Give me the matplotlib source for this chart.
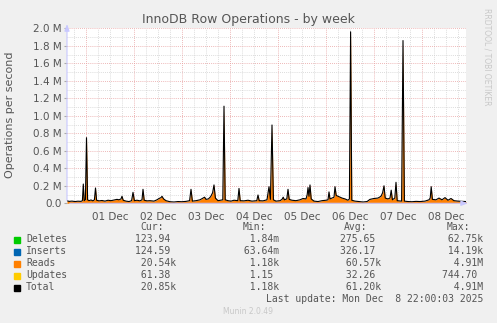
import numpy as np
import matplotlib
matplotlib.use('Agg')
import matplotlib.pyplot as plt
from matplotlib.transforms import blended_transform_factory

# hours since 01 Dec 00:00, read values in thousands of rows/s
hours = [-9.5, -8.5, -7, -5.5, -4, -2.5, -1.8, -1.35, -0.9, -0.3, 0.25, 0.8, 1.5, 2.5, 3.5,
         4.2, 4.75, 5.3, 6.5, 8, 9.5, 11, 12.5, 14, 15.5, 16.5, 17.5, 18, 18.6, 20, 21.5,
         22.8, 23.5, 24.2, 25.5, 27, 28, 28.5, 29.1, 30.5, 32, 34, 35.5, 36.5, 37.5, 38,
         38.8, 40, 42, 44, 46, 48, 50, 51.8, 52.5, 53.2, 55, 57, 58.5, 59.3, 60, 61.2,
         62.3, 63.3, 64, 64.7, 66, 68.4, 69, 69.6, 71, 72.5, 74, 75.9, 76.5, 77.1, 79, 81,
         83, 85.4, 86, 86.6, 88.5, 90.5, 91.5, 92.2, 93, 93.7, 95, 97, 98, 98.6, 99.2,
         100.4, 101, 101.6, 103, 105, 107, 108.5, 110, 110.6, 111, 111.5, 112, 112.6, 114,
         116, 118, 120, 121, 121.5, 122, 123, 124, 124.5, 125.1, 126.5, 128, 129.5, 131,
         131.7, 132.3, 132.9, 134.5, 136.5, 138.5, 140.5, 142, 144, 146, 147.5, 148.3, 149,
         149.6, 151, 152, 152.6, 153.2, 154.4, 155, 155.6, 157.8, 158.5, 159.2, 161, 163,
         165, 167, 169.5, 171.5, 172.1, 172.6, 173.2, 175, 176.5, 178, 179.5, 181, 182.5,
         184, 186, 188, 190]
reads = [30, 22, 25, 20, 24, 22, 30, 220, 30, 40, 750, 40, 30, 38, 28,
         40, 175, 35, 28, 32, 25, 35, 30, 38, 45, 40, 50, 80, 35, 25, 20,
         30, 125, 30, 35, 28, 40, 160, 35, 28, 30, 25, 40, 55, 65, 80,
         50, 30, 18, 15, 20, 18, 22, 30, 160, 25, 30, 40, 60, 70, 45, 50,
         75, 120, 210, 60, 30, 40, 1110, 40, 30, 25, 35, 30, 170, 30, 28, 35,
         25, 30, 95, 30, 28, 40, 190, 45, 895, 40, 25, 30, 45, 70, 40,
         50, 160, 45, 35, 30, 40, 55, 50, 100, 180, 80, 210, 50, 25,
         20, 30, 35, 40, 130, 50, 60, 70, 190, 90, 75, 60, 50, 35,
         50, 1960, 35, 25, 20, 15, 20, 45, 55, 60, 80, 120, 200,
         60, 50, 60, 150, 40, 60, 240, 30, 25, 1860, 25, 20, 18,
         22, 20, 25, 40, 60, 190, 45, 40, 60, 40, 65, 35, 55,
         30, 25, 22, 20]

day_labels = ['01 Dec', '02 Dec', '03 Dec', '04 Dec', '05 Dec', '06 Dec', '07 Dec', '08 Dec']

names = ['Deletes', 'Inserts', 'Reads', 'Updates', 'Total']
colors = ['#00cc00', '#0066b3', '#ff8000', '#ffcc00', '#000000']
cur = ['123.94 ', '124.59 ', ' 20.54k', ' 61.38 ', ' 20.85k']
mins = ['  1.84m', ' 63.64m', '  1.18k', '  1.15 ', '  1.18k']
avgs = ['275.65 ', '326.17 ', ' 60.57k', ' 32.26 ', ' 61.20k']
maxs = [' 62.75k', ' 14.19k', '  4.91M', '744.70 ', '  4.91M']

W, H = 497, 323
fig = plt.figure(figsize=(W / 100, H / 100), dpi=100, facecolor='#f0f0f0')
left, right, top, bottom = 67, 466, 28.3, 203.3
ax = fig.add_axes([left / W, 1 - bottom / H, (right - left) / W, (bottom - top) / H])
ax.set_facecolor('white')

x = np.array(hours)
y = np.array(reads) * 1000.0
ax.fill_between(x, 0, y, color='#ff8000', lw=0, zorder=3)
ax.plot(x, y, color='black', lw=0.8, zorder=4)

ax.set_xlim(-9.5, 190)
ax.set_ylim(0, 2.0e6)

# grid: minor grey, major red
for h in np.arange(-6, 190, 6):
    if h % 24 != 0:
        ax.axvline(h, color='#d0d0d0', lw=0.6, ls=(0, (1, 1.5)), zorder=1)
for h in np.arange(0, 190, 24):
    ax.axvline(h, color='#e8a0a0', lw=0.6, ls=(0, (1, 1.5)), zorder=2)
for v in np.arange(0.1e6, 2.01e6, 0.2e6):
    ax.axhline(v, color='#d0d0d0', lw=0.6, ls=(0, (1, 1.5)), zorder=1)
for v in np.arange(0.2e6, 2.01e6, 0.2e6):
    ax.axhline(v, color='#e8a0a0', lw=0.6, ls=(0, (1, 1.5)), zorder=2)

for s in ax.spines.values():
    s.set_visible(False)

yt = np.arange(0, 2.01e6, 0.2e6)
ax.set_yticks(yt)
ax.set_yticklabels(['0.0'] + ['%.1f M' % (v / 1e6) for v in yt[1:]],
                   fontsize=7.5, color='#555555')
ax.tick_params(axis='y', length=2, color='#aaaaaa', pad=2)
ax.set_xticks([])
trans = blended_transform_factory(ax.transData, ax.transAxes)
for i, lab in enumerate(day_labels):
    ax.text(i * 24 + 12, -0.05, lab, transform=trans, ha='center', va='top',
            fontsize=7.5, color='#555555')

# axis lines with arrows
ax.annotate('', xy=(0, 1.04), xytext=(0, 0), xycoords='axes fraction',
            arrowprops=dict(arrowstyle='-|>,head_width=0.15,head_length=0.4',
                            color='#c8c8ff', lw=0.8), zorder=5)
ax.annotate('', xy=(1.012, 0), xytext=(0, 0), xycoords='axes fraction',
            arrowprops=dict(arrowstyle='-|>,head_width=0.15,head_length=0.4',
                            color='#c8c8ff', lw=0.8), zorder=5)

fig.text(248 / W, 1 - 19.5 / H, 'InnoDB Row Operations - by week', ha='center', va='center',
         fontsize=9, color='#555555')
fig.text(10 / W, 1 - 115 / H, 'Operations per second', rotation=90, ha='center',
         va='center', fontsize=8, color='#555555')
fig.text(487 / W, 1 - 57 / H, 'RRDTOOL / TOBI OETIKER', rotation=270, ha='center',
         va='center', fontsize=5.5, color='#c8c8c8')

mono = 'DejaVu Sans Mono'
fs = 7
def ty(py):
    return 1 - py / H

fig.text(140 / W, ty(227.5), 'Cur:', ha='left', va='center', family=mono, fontsize=fs, color='#555555')
fig.text(243 / W, ty(227.5), 'Min:', ha='left', va='center', family=mono, fontsize=fs, color='#555555')
fig.text(344 / W, ty(227.5), 'Avg:', ha='left', va='center', family=mono, fontsize=fs, color='#555555')
fig.text(447 / W, ty(227.5), 'Max:', ha='left', va='center', family=mono, fontsize=fs, color='#555555')

rows_y = [239.5, 251.5, 263.5, 275.5, 287.5]
for i in range(5):
    py = rows_y[i]
    fig.patches.append(plt.Rectangle((14 / W, ty(py + 3)), 6 / W, 6 / H,
                                     transform=fig.transFigure, color=colors[i]))
    fig.text(26 / W, ty(py), names[i], ha='left', va='center', family=mono, fontsize=fs, color='#555555')
    fig.text(176 / W, ty(py), cur[i], ha='right', va='center', family=mono, fontsize=fs, color='#555555')
    fig.text(279 / W, ty(py), mins[i], ha='right', va='center', family=mono, fontsize=fs, color='#555555')
    fig.text(381 / W, ty(py), avgs[i], ha='right', va='center', family=mono, fontsize=fs, color='#555555')
    fig.text(483 / W, ty(py), maxs[i], ha='right', va='center', family=mono, fontsize=fs, color='#555555')

fig.text(483 / W, ty(299.5), 'Last update: Mon Dec  8 22:00:03 2025', ha='right', va='center',
         family=mono, fontsize=fs, color='#555555')
fig.text(248 / W, ty(312), 'Munin 2.0.49', ha='center', va='center', fontsize=5.5, color='#c8c8c8')

fig.savefig('out.png', dpi=100, facecolor=fig.get_facecolor())
